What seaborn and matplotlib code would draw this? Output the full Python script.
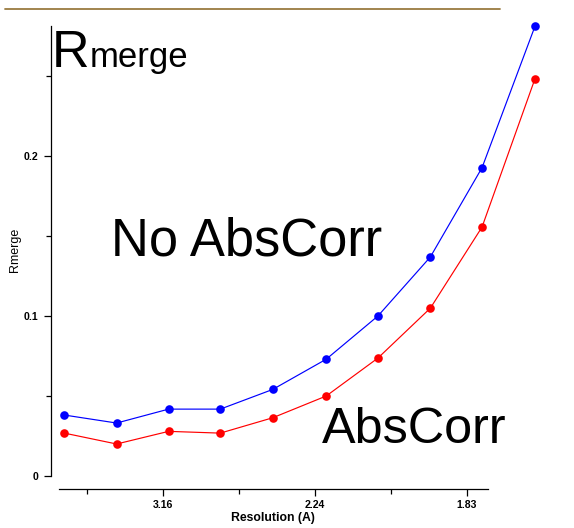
import matplotlib
matplotlib.use("Agg")
import matplotlib.pyplot as plt
from matplotlib.lines import Line2D
import pandas as pd
import seaborn as sns

# Resolution bins expressed as 1/d^2 (Å^-2)
inv_d2 = [0.0351, 0.0695, 0.1037, 0.1377, 0.1722, 0.2074, 0.2414, 0.2759, 0.3099, 0.3447]

# Rmerge per resolution bin
rmerge_no_abscorr = [0.0381, 0.0331, 0.0418, 0.0418, 0.0541, 0.0730, 0.1000, 0.1369, 0.1927, 0.2810]
rmerge_abscorr = [0.0268, 0.0200, 0.0279, 0.0268, 0.0364, 0.0500, 0.0737, 0.1049, 0.1556, 0.2482]

series_names = ["No AbsCorr", "AbsCorr"]
series_colors = {"No AbsCorr": "#0000ff", "AbsCorr": "#ff0000"}

x_ticks = [0.1, 0.2, 0.3]
x_tick_labels = ["3.16", "2.24", "1.83"]
x_minor = [0.05, 0.15, 0.25]
y_ticks = [0.0, 0.1, 0.2]
y_tick_labels = ["0", "0.1", "0.2"]
y_minor = [0.05, 0.15, 0.25]

df = pd.DataFrame({
    "inv_d2": inv_d2 * 2,
    "rmerge": rmerge_no_abscorr + rmerge_abscorr,
    "series": [series_names[0]] * len(inv_d2) + [series_names[1]] * len(inv_d2),
})

sns.set_theme(style="ticks")
plt.rcParams["font.family"] = ["Liberation Sans", "DejaVu Sans"]

W, H = 574, 528
fig = plt.figure(figsize=(W / 100, H / 100), dpi=100)
fig.patch.set_facecolor("white")

ax = fig.add_axes([51 / W, 39 / H, 499 / W, 469 / H])
ax.set_facecolor("white")

sns.lineplot(
    data=df, x="inv_d2", y="rmerge", hue="series", palette=series_colors,
    hue_order=series_names, marker="o", markersize=6.2, markeredgewidth=0,
    linewidth=0.85, legend=False, sort=False, ax=ax, clip_on=False,
)

ax.set_xlim(0.02632, 0.35461)
ax.set_ylim(-0.008125, 0.285)

for side in ("top", "right"):
    ax.spines[side].set_visible(False)
for side in ("left", "bottom"):
    ax.spines[side].set_linewidth(0.9)
    ax.spines[side].set_color("black")
ax.spines["left"].set_bounds(0.0, 0.281)
ax.spines["bottom"].set_bounds(0.0316, 0.3138)

ax.set_xticks(x_ticks)
ax.set_xticklabels(x_tick_labels)
ax.set_xticks(x_minor, minor=True)
ax.set_yticks(y_ticks)
ax.set_yticklabels(y_tick_labels)
ax.set_yticks(y_minor, minor=True)

ax.tick_params(axis="both", which="major", length=5, width=0.9, color="black",
               labelsize=7.6, pad=3)
ax.tick_params(axis="both", which="minor", length=3.5, width=0.9, color="black")
ax.tick_params(axis="y", which="major", pad=4)
for lab in ax.get_xticklabels() + ax.get_yticklabels():
    lab.set_fontweight("bold")
    lab.set_color("black")

ax.set_xlabel("")
ax.set_ylabel("")

# Axis titles
fig.text(272.5 / W, 1 - 518 / H, "Resolution (A)", ha="center", va="center",
         fontsize=8.8, fontweight="bold", color="black")
fig.text(15 / W, 1 - 250 / H, "Rmerge", ha="center", va="center",
         rotation=90, fontsize=9, color="black")

# Large annotations
fig.text(51.5 / W, 1 - 66.7 / H, "R", ha="left", va="baseline",
         fontsize=37.5, color="black")
fig.text(90 / W, 1 - 66.7 / H, "merge", ha="left", va="baseline",
         fontsize=25, color="black")
fig.text(111 / W, 1 - 255 / H, "No AbsCorr", ha="left", va="baseline",
         fontsize=37.8, color="black")
fig.text(322 / W, 1 - 443.3 / H, "AbsCorr", ha="left", va="baseline",
         fontsize=36.3, color="black")

# Header rule
fig.add_artist(Line2D([5 / W, 500 / W], [1 - 9 / H, 1 - 9 / H],
                      transform=fig.transFigure, color="#9a7b40", linewidth=1.3))

fig.savefig("out.png", dpi=100, facecolor="white")
